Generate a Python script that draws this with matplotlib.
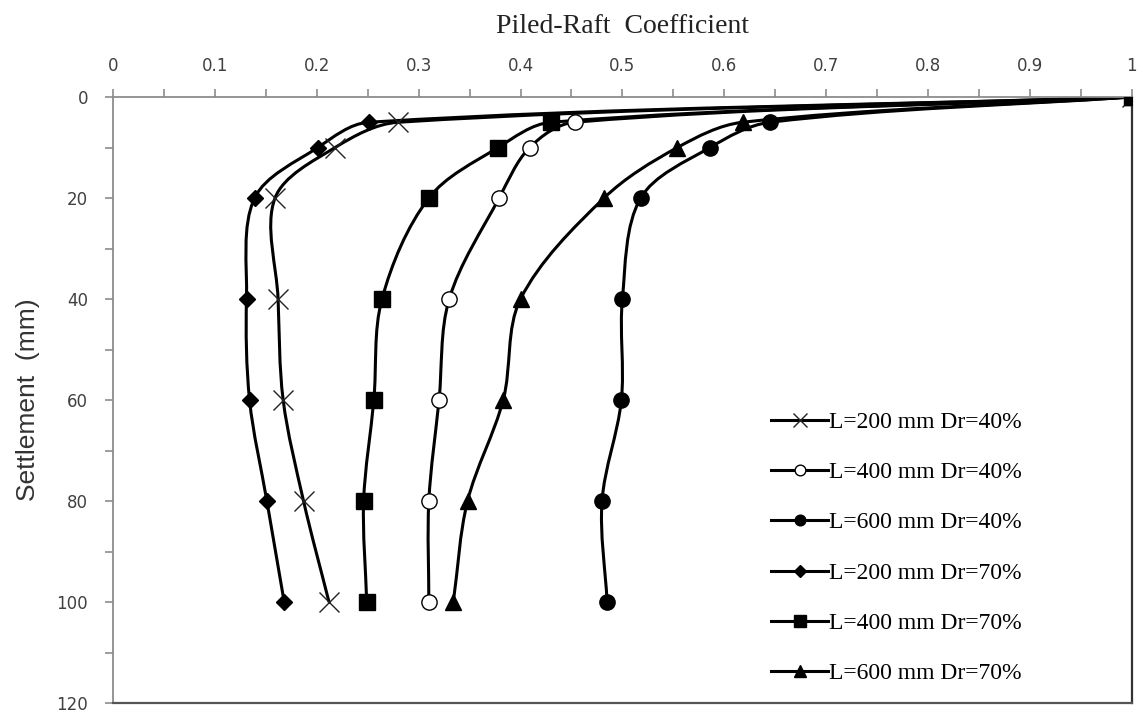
import matplotlib
matplotlib.use("Agg")
import matplotlib.pyplot as plt
import numpy as np
from matplotlib.path import Path
from matplotlib.patches import PathPatch
from matplotlib.lines import Line2D
from matplotlib.ticker import MultipleLocator

# settlement (mm) at which the coefficient was read
settlement = [0, 5, 10, 20, 40, 60, 80, 100]

# piled-raft coefficient per case
l200_dr40 = [1.0, 0.280, 0.218, 0.159, 0.162, 0.167, 0.187, 0.212]
l400_dr40 = [1.0, 0.453, 0.409, 0.379, 0.330, 0.320, 0.310, 0.310]
l600_dr40 = [1.0, 0.645, 0.586, 0.518, 0.500, 0.499, 0.480, 0.485]
l200_dr70 = [1.0, 0.251, 0.201, 0.139, 0.131, 0.134, 0.151, 0.168]
l400_dr70 = [1.0, 0.430, 0.378, 0.310, 0.264, 0.256, 0.246, 0.249]
l600_dr70 = [1.0, 0.618, 0.554, 0.482, 0.400, 0.383, 0.348, 0.334]

labels = ["L=200 mm Dr=40%", "L=400 mm Dr=40%", "L=600 mm Dr=40%",
          "L=200 mm Dr=70%", "L=400 mm Dr=70%", "L=600 mm Dr=70%"]
series = [l200_dr40, l400_dr40, l600_dr40, l200_dr70, l400_dr70, l600_dr70]

# marker, size, face
styles = [("x", 14, "none"), ("o", 11, "white"), ("o", 11, "black"),
          ("D", 8.5, "black"), ("s", 12, "black"), ("^", 12, "black")]


def smooth_path(ax, xs, ys):
    # chordal cubic bezier through the points, done in pixel space
    p = ax.transData.transform(np.column_stack([xs, ys]).astype(float))
    n = len(p)
    d = np.linalg.norm(np.diff(p, axis=0), axis=1)
    tang = np.zeros_like(p)
    for i in range(n):
        if i == 0:
            tang[i] = (p[1] - p[0]) / d[0]
        elif i == n - 1:
            tang[i] = (p[-1] - p[-2]) / d[-1]
        else:
            tang[i] = (p[i + 1] - p[i - 1]) / (d[i - 1] + d[i])
    verts = [p[0]]
    codes = [Path.MOVETO]
    for i in range(n - 1):
        c1 = p[i] + tang[i] * d[i] / 3.0
        c2 = p[i + 1] - tang[i + 1] * d[i] / 3.0
        verts += [c1, c2, p[i + 1]]
        codes += [Path.CURVE4] * 3
    verts = ax.transData.inverted().transform(np.array(verts))
    return Path(verts, codes)


fig = plt.figure(figsize=(11.42, 7.17), dpi=100)
ax = fig.add_axes([0.099, 0.0195, 0.892, 0.8452])
ax.set_xlim(0, 1)
ax.set_ylim(120, 0)

handles = []
for vals, lab, (mk, ms, fc) in zip(series, labels, styles):
    ax.add_patch(PathPatch(smooth_path(ax, vals, settlement), facecolor="none",
                           edgecolor="black", lw=2.2, zorder=2))
    if mk == "x":
        ax.plot(vals, settlement, ls="none", marker=mk, ms=ms, mew=1.0,
                color="#222222", zorder=3)
    else:
        ax.plot(vals, settlement, ls="none", marker=mk, ms=ms, mfc=fc,
                mec="black", mew=1.0, zorder=3)
    handles.append(Line2D([], [], color="black", lw=2.2, marker=mk,
                          ms=ms * 0.7, mfc=fc,
                          mec="#222222" if mk == "x" else "black", mew=1.0,
                          label=lab))

ax.xaxis.tick_top()
ax.xaxis.set_minor_locator(MultipleLocator(0.05))
ax.yaxis.set_major_locator(MultipleLocator(20))
ax.yaxis.set_minor_locator(MultipleLocator(10))
ax.set_xticks(np.arange(0, 1.01, 0.1))
ax.set_xticklabels(["0", "0.1", "0.2", "0.3", "0.4", "0.5", "0.6",
                    "0.7", "0.8", "0.9", "1"])

ax.tick_params(axis="x", which="both", direction="out", length=6,
               color="#8c8c8c", width=1.2, labelsize=12,
               labelcolor="#404040", pad=10)
ax.tick_params(axis="y", which="both", direction="out", length=6,
               color="#8c8c8c", width=1.2, labelsize=12,
               labelcolor="#404040", pad=12)

for side in ["left", "top"]:
    ax.spines[side].set_color("#8c8c8c")
    ax.spines[side].set_linewidth(1.3)
ax.spines["right"].set_color("#333333")
ax.spines["right"].set_linewidth(1.6)
ax.spines["bottom"].set_color("#555555")
ax.spines["bottom"].set_linewidth(1.6)

fig.text(0.545, 0.963, "Piled-Raft  Coefficient", ha="center", va="center",
         fontsize=20, family="Liberation Serif", color="#222222")
ax.set_ylabel("Settlement  (mm)", fontsize=19, color="#333333",
              family="Liberation Sans", labelpad=12)

leg = ax.legend(handles=handles, loc="upper left",
                bbox_to_anchor=(0.637, 0.497), frameon=False,
                prop={"family": "Liberation Serif", "size": 17},
                handlelength=2.4, handletextpad=0.05, labelspacing=1.22,
                borderaxespad=0)

fig.savefig("out.png", dpi=100)
